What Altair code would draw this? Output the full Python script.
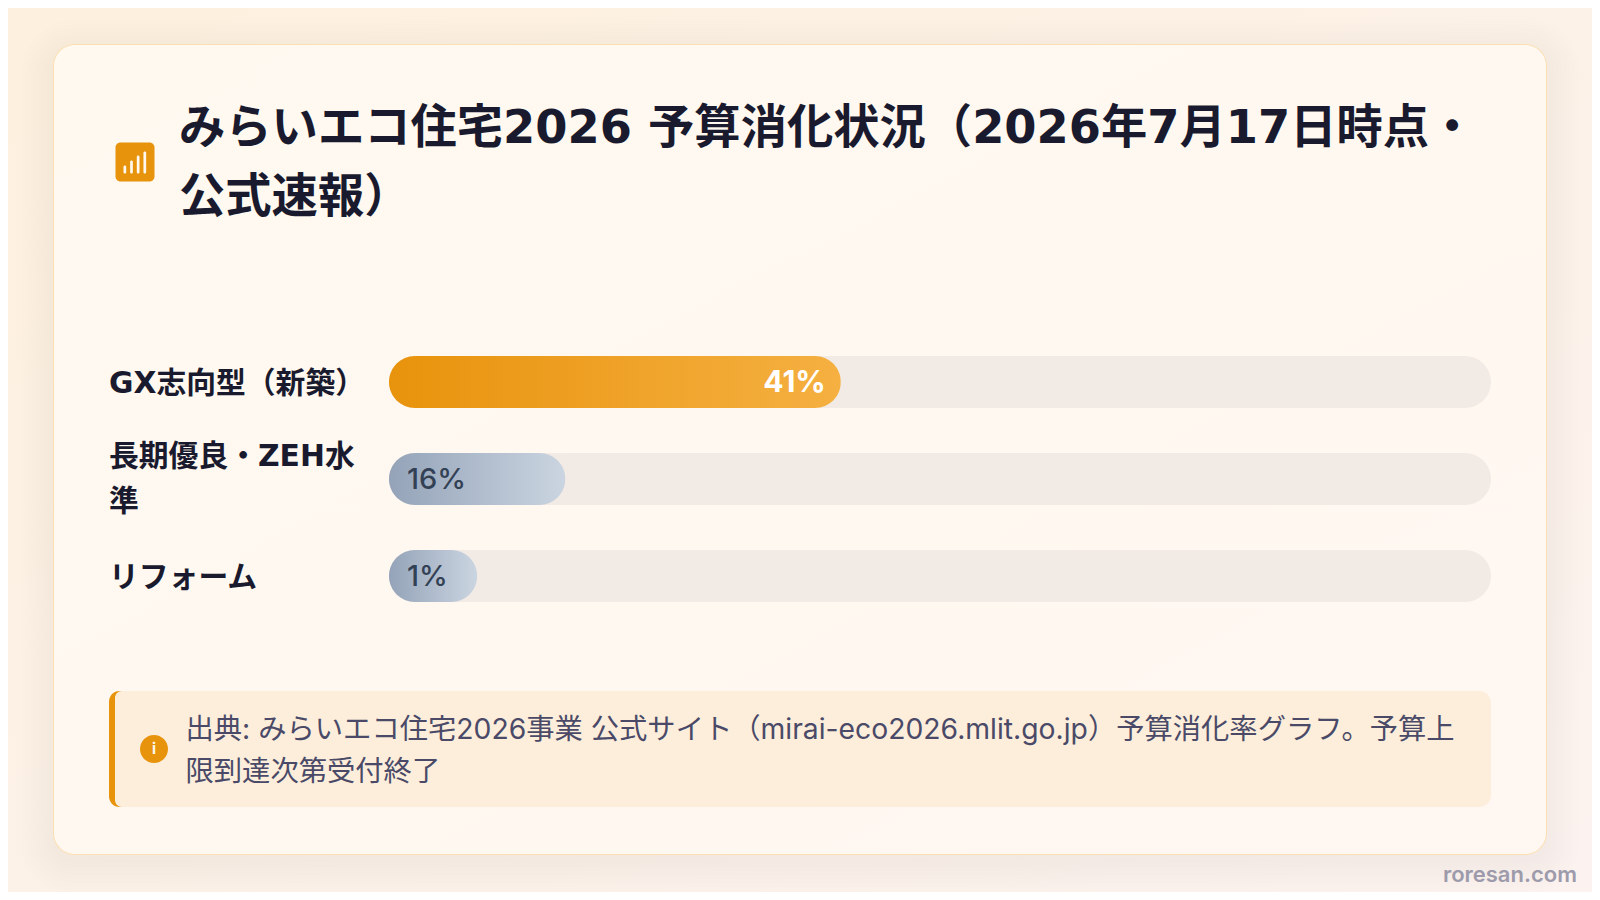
import altair as alt
import pandas as pd

OX, OY = 8, 8  # page margin: everything below is given in page pixels and shifted by it

# ---- data ----
categories = ["GX志向型（新築）", "長期優良・ZEH水\n準", "リフォーム"]
values = [41, 16, 1]
min_visible = 8  # the short bars keep a minimum pill width so the label fits
title_text = "みらいエコ住宅2026 予算消化状況（2026年7月17日時点・\n公式速報）"
footer_text = "出典: みらいエコ住宅2026事業 公式サイト（mirai-eco2026.mlit.go.jp）予算消化率グラフ。予算上\n限到達次第受付終了"
watermark = "roresan.com"
icon_heights = [8, 13, 18, 22]

FONT = "Inter, 'Noto Sans CJK JP'"
WIDE = "'DejaVu Sans', 'Noto Sans CJK JP'"
INK = "#1a1a2e"
ORANGE = "#e8930c"


def grad(c0, c1, x2=1, y2=0):
    return alt.Gradient(
        gradient="linear", x1=0, y1=0, x2=x2, y2=y2,
        stops=[alt.GradientStop(color=c0, offset=0), alt.GradientStop(color=c1, offset=1)],
    )


def box(x0, x1, y0, y1, color, **kw):
    return alt.Chart().mark_rect(color=color, **kw).encode(
        x=alt.value(x0 - OX), x2=alt.value(x1 - OX),
        y=alt.value(y0 - OY), y2=alt.value(y1 - OY),
    )


def label(text, x, y, font=FONT, **kw):
    return alt.Chart().mark_text(text=text, font=font, lineBreak="\n", **kw).encode(
        x=alt.value(x - OX), y=alt.value(y - OY)
    )


layers = [box(0, 1600, 0, 900, grad("#fdf0de", "#fcf3f0", x2=1, y2=1))]

# soft card shadow
for i in range(9):
    e = 32 - i * 4
    layers.append(box(53 - e, 1547 + e, 44 + 8 - e, 855 + 8 + e, "#1a1a2e", opacity=0.005, cornerRadius=20 + e))

# card
layers.append(box(53, 1547, 44, 855, "#fce0b4", cornerRadius=22))
layers.append(box(54, 1546, 45, 854, grad("#fff9f0", "#fff7f1", x2=1, y2=1), cornerRadius=21))

# title and icon
layers.append(box(115.5, 154.5, 142.5, 181.5, ORANGE, cornerRadius=5))
base = 173.5
for i, h in enumerate(icon_heights):
    x = 123.5 + i * 6.65
    layers.append(box(x, x + 2.7, base - h, base, "#fff9f0", cornerRadius=1.3))
layers.append(label(title_text, 179, 129, font=WIDE, fontSize=46.3, fontWeight=700, color=INK, align="left",
                    baseline="middle", lineHeight=69))

# bars
df = pd.DataFrame({"category": categories, "value": values})
df["pct"] = df["value"].astype(str) + "%"
df["full"] = 100
df["drawn"] = df["value"].clip(lower=min_visible)
df["start"] = 0
df["lines"] = df["category"].str.count("\n") + 1

xs = alt.Scale(domain=[0, 100], range=[389 - OX, 1491 - OX])
ys = alt.Scale(type="band", domain=categories, range=[333.5 - OY + 0, 624.5 - OY], paddingInner=0, paddingOuter=0)
Y = alt.Y("category:N", scale=ys, axis=None, title=None)


def X(f):
    return alt.X(f + ":Q", scale=xs, axis=None, title=None)


base_chart = alt.Chart(df)
layers.append(base_chart.mark_bar(color="#f2eae4", cornerRadius=26, size=52).encode(x=X("full"), y=Y))
hi = base_chart.transform_filter("datum.value >= 30")
lo = base_chart.transform_filter("datum.value < 30")
layers.append(hi.mark_bar(color=grad("#e8930c", "#f5b041"), cornerRadius=26, size=52).encode(x=X("drawn"), y=Y))
layers.append(lo.mark_bar(color=grad("#94a3b8", "#cbd5e1"), cornerRadius=26, size=52).encode(x=X("drawn"), y=Y))
layers.append(hi.mark_text(font=FONT, fontSize=30, fontWeight=700, color="#ffffff", align="right", dx=-15, dy=1)
              .encode(x=X("drawn"), y=Y, text="pct:N"))
layers.append(lo.mark_text(font=FONT, fontSize=29, fontWeight=500, color="#334155", align="left", dx=18, dy=1)
              .encode(x=X("start"), y=Y, text="pct:N"))
single = base_chart.transform_filter("datum.lines == 1")
double = base_chart.transform_filter("datum.lines == 2")
for part, shift in ((single, 2), (double, -22)):
    layers.append(part.mark_text(font=WIDE, fontSize=29.8, fontWeight=700, color=INK, align="left", lineBreak="\n",
                                 lineHeight=45, dy=shift)
                  .encode(x=alt.value(109 - OX), y=Y, text="category:N"))

# footer
layers.append(box(109, 130, 691, 807, ORANGE, cornerRadius=12))
layers.append(alt.Chart().mark_rect(color="#fdeedb", cornerRadiusTopLeft=7, cornerRadiusBottomLeft=7,
                                    cornerRadiusTopRight=12, cornerRadiusBottomRight=12)
              .encode(x=alt.value(115 - OX), x2=alt.value(1491 - OX), y=alt.value(691 - OY), y2=alt.value(807 - OY)))
layers.append(box(140, 168, 735, 763, ORANGE, cornerRadius=14))
layers.append(label("i", 154, 749, fontSize=15, fontWeight=700, color="#fff8f0", align="center", baseline="middle"))
layers.append(label(footer_text, 185.5, 731, fontSize=28.3, fontWeight=400, color="#4a4a68", align="left",
                    baseline="middle", lineHeight=42))

# watermark
layers.append(label(watermark, 1577, 875, fontSize=22, fontWeight=600, color="#9d9bab", align="right", baseline="middle"))

chart = alt.layer(*layers).properties(
    width=1584, height=884, padding=0, autosize=alt.AutoSizeParams(type="none"), background="#fdf2e6"
).configure_view(stroke=None)

chart.save("out.html", embed_options={"renderer": "svg", "actions": False})
